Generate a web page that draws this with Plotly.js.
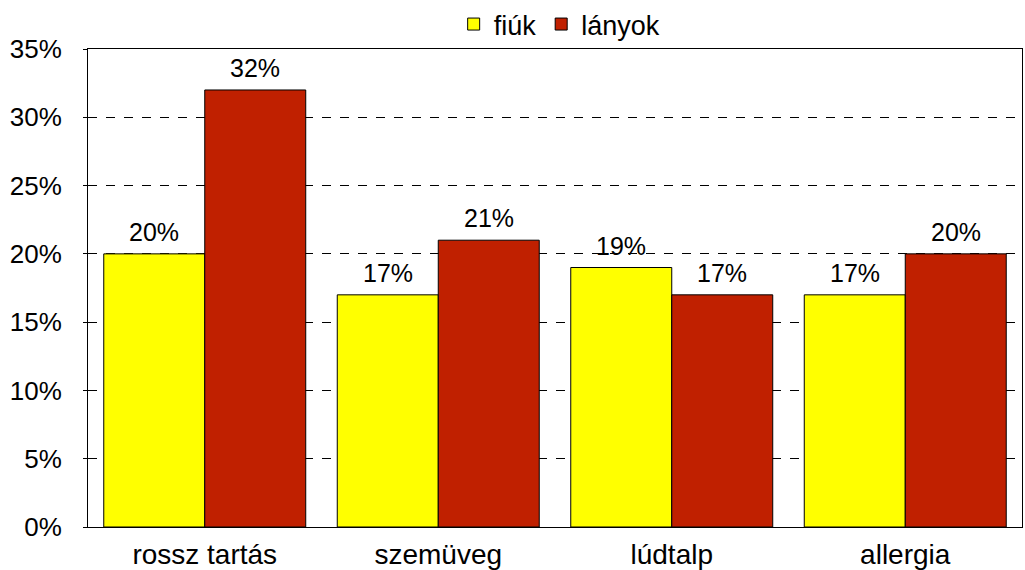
<!DOCTYPE html>
<html><head><meta charset="utf-8">
<script src="https://cdn.plot.ly/plotly-3.0.1.min.js"></script>
<style>body{margin:0;background:#fff}#c{width:1025px;height:570px}</style>
</head><body><div id="c"></div>
<script>
const categories = ["rossz tartás", "szemüveg", "lúdtalp", "allergia"];
const fiuk = [20, 17, 19, 17];
const lanyok = [32, 21, 17, 20];
const seriesNames = ["fiúk", "lányok"];

const fam = "Liberation Sans, Arial, sans-serif";
const font = {family: fam, size: 25, color: "#000"};
function mk(name, vals, color) {
  return {
    type: "bar", name: name, x: categories, y: vals,
    marker: {color: color, line: {color: "#000", width: 1}},
    hoverinfo: "skip"
  };
}
const data = [mk(seriesNames[0], fiuk, "#FFFF00"), mk(seriesNames[1], lanyok, "#C02000")];
const annotations = [];
[[fiuk, -50.5], [lanyok, 50.5]].forEach(([vals, dx]) => {
  vals.forEach((v, i) => annotations.push({
    x: categories[i], y: v, xref: "x", yref: "y", text: v + "%", showarrow: false,
    xshift: dx, yanchor: "bottom", yshift: 6, font: font
  }));
});
const layout = {
  width: 1025, height: 570,
  margin: {l: 88, r: 3, t: 49, b: 43, autoexpand: false},
  paper_bgcolor: "#fff", plot_bgcolor: "#fff",
  font: font,
  barmode: "group", bargap: 0.135, bargroupgap: 0,
  showlegend: true,
  legend: {orientation: "h", x: 0.505, xanchor: "center", y: 1.0, yanchor: "bottom",
           bgcolor: "rgba(0,0,0,0)", font: {family: fam, size: 27, color: "#000"},
           itemwidth: 30, tracegroupgap: 0},
  annotations: annotations,
  xaxis: {showline: true, linecolor: "#000", linewidth: 1, mirror: true,
          ticks: "", showgrid: false, tickfont: {family: fam, size: 28, color: "#000"},
          ticklabelstandoff: 2},
  yaxis: {range: [0, 35], dtick: 5, ticksuffix: "%", showline: true, linecolor: "#000",
          linewidth: 1, mirror: true, ticks: "outside", ticklen: 4, tickcolor: "#000",
          showgrid: true, gridcolor: "#000", griddash: "dash", gridwidth: 1,
          zeroline: false, tickfont: {family: fam, size: 26, color: "#000"}, ticklabelstandoff: 16}
};
Plotly.newPlot("c", data, layout, {staticPlot: true});
</script></body></html>
